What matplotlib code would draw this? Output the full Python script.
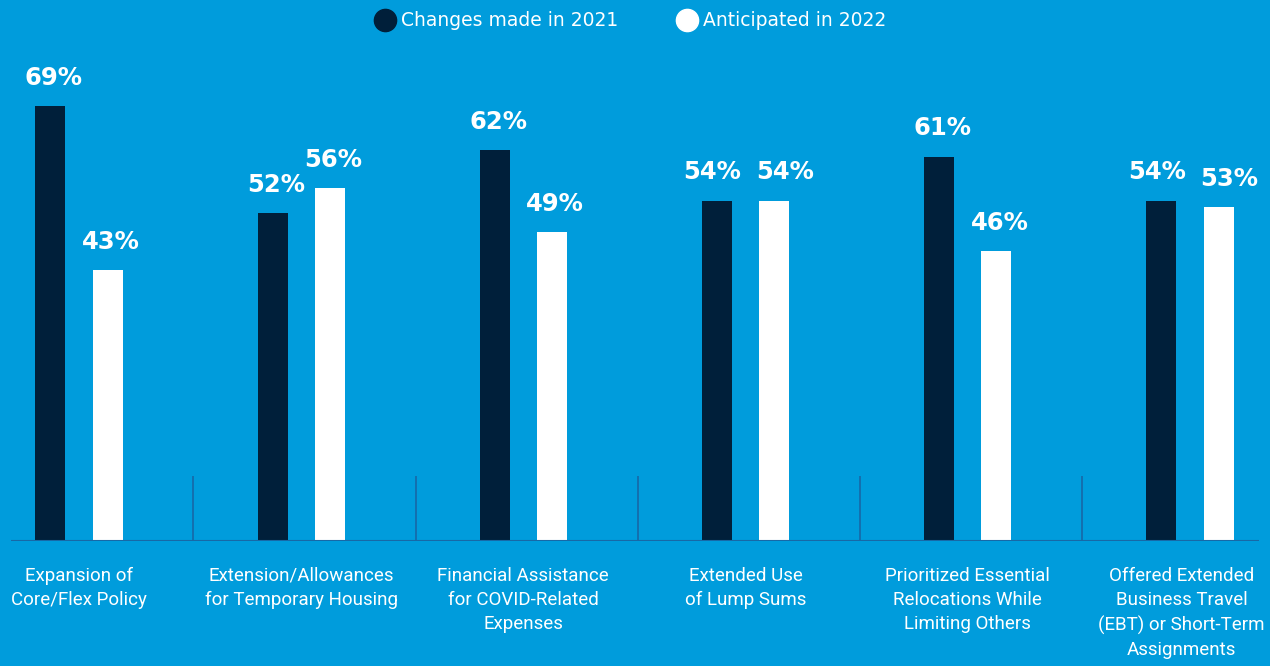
import matplotlib.pyplot as plt
from matplotlib.lines import Line2D
import numpy as np

categories = [
    "Expansion of\nCore/Flex Policy",
    "Extension/Allowances\nfor Temporary Housing",
    "Financial Assistance\nfor COVID-Related\nExpenses",
    "Extended Use\nof Lump Sums",
    "Prioritized Essential\nRelocations While\nLimiting Others",
    "Offered Extended\nBusiness Travel\n(EBT) or Short-Term\nAssignments",
]
made_2021 = [69, 52, 62, 54, 61, 54]
anticipated_2022 = [43, 56, 49, 54, 46, 53]
series_names = ["Changes made in 2021", "Anticipated in 2022"]

BG = "#009cdc"
NAVY = "#001f3a"
LINE = "#1768a6"

fig = plt.figure(figsize=(12.7, 6.66), dpi=100, facecolor=BG)
ax = fig.add_axes([11 / 1270, 125 / 666, 1248 / 1270, 504 / 666])
ax.set_facecolor(BG)

x = np.arange(len(categories))
off = 0.129
w = 0.135

b1 = ax.bar(x - off, made_2021, w, color=NAVY, zorder=3)
b2 = ax.bar(x + off, anticipated_2022, w, color="white", zorder=3)

# value labels; push the pair apart when both sit at about the same height
for i, (a, b) in enumerate(zip(made_2021, anticipated_2022)):
    spread = 0.035 if abs(a - b) <= 2 else 0.0
    for rect, dx in ((b1[i], -spread), (b2[i], spread)):
        h = rect.get_height()
        ax.annotate(f"{h:.0f}%", (rect.get_x() + rect.get_width() / 2 + 0.015 + dx, h),
                    xytext=(0, 15.5), textcoords="offset points",
                    ha="center", va="baseline", color="white",
                    fontsize=17.5, fontweight="bold", family="DejaVu Sans")

# short dividers between groups
ax.vlines(x[:-1] + 0.515, 0, 10.3, color=LINE, lw=1.2, zorder=2)
ax.axhline(0, color=LINE, lw=1.5, zorder=4)

for xi, label in zip(x, categories):
    # keep the last label inside the right edge
    dx = -6 if xi == x[-1] else 0
    ax.annotate(label, (xi, 0), xytext=(dx, -18.5), textcoords="offset points",
                ha="center", va="top", color="white", fontsize=13.5,
                family="Roboto", linespacing=1.45)

ax.set_xlim(-0.306, 5.311)
ax.set_ylim(0, 80)
ax.axis("off")

handles = [
    Line2D([], [], ls="none", marker="o", ms=16, mfc=NAVY, mec=NAVY),
    Line2D([], [], ls="none", marker="o", ms=16, mfc="white", mec="white"),
]
fig.legend(handles, series_names, loc="center", bbox_to_anchor=(0.4975, 1 - 21 / 666),
           ncol=2, frameon=False, handlelength=0.8, handletextpad=0.45,
           columnspacing=3.3, labelcolor="white",
           prop={"family": "DejaVu Sans", "size": 13.5})

fig.savefig("out.png", dpi=100, facecolor=BG)
